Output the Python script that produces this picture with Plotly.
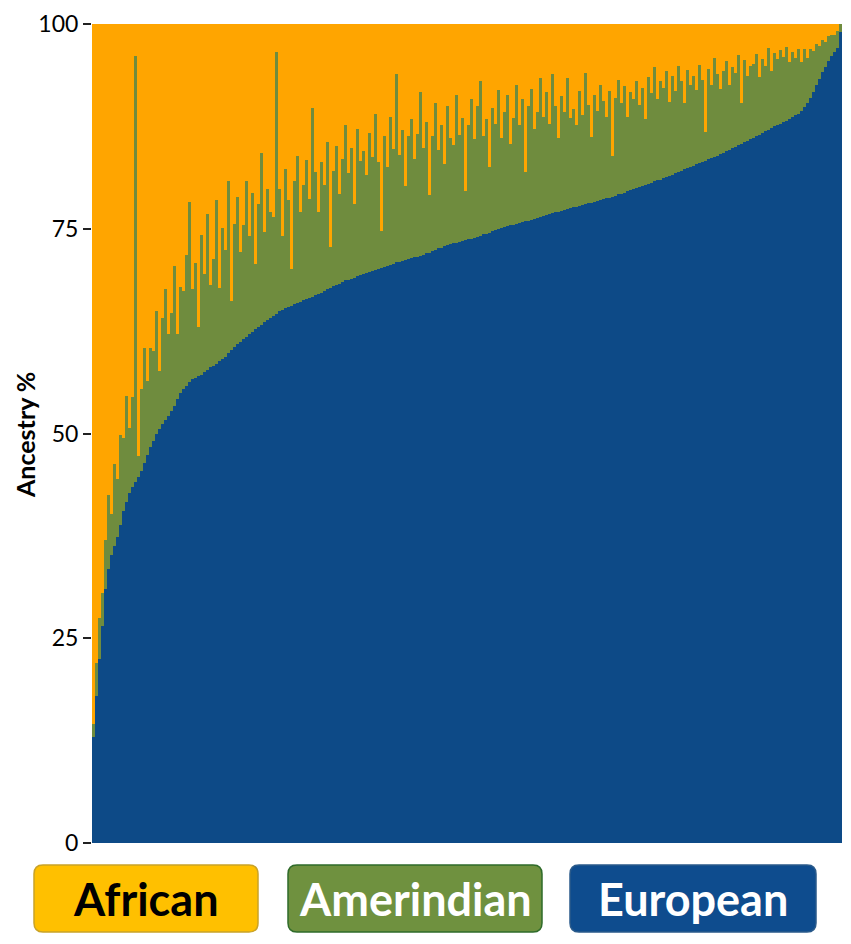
import numpy as np
import plotly.graph_objects as go

# individuals sorted by European ancestry (%)
european = [
    13, 18, 22.5, 26.5, 31, 33.5, 35.2, 36.3, 37.4, 38.8,
    40.5, 41.6, 42.7, 43.5, 44.1, 44.7, 45.4, 46.4, 47.4, 48.4,
    49.1, 49.9, 50.6, 51.1, 51.6, 52.1, 52.7, 53.4, 54.2, 54.9,
    55.4, 55.8, 56.3, 56.6, 56.8, 57.0, 57.2, 57.5, 57.8, 58.1,
    58.3, 58.5, 58.8, 59.1, 59.4, 59.8, 60.2, 60.6, 60.9, 61.2,
    61.5, 61.8, 62.1, 62.4, 62.7, 63.0, 63.3, 63.6, 63.9, 64.1,
    64.4, 64.6, 64.9, 65.1, 65.3, 65.5, 65.6, 65.8, 65.9, 66.1,
    66.3, 66.4, 66.6, 66.7, 66.9, 67.0, 67.2, 67.4, 67.6, 67.8,
    68.0, 68.1, 68.3, 68.5, 68.7, 68.8, 68.9, 69.0, 69.2, 69.3,
    69.5, 69.6, 69.7, 69.8, 70.0, 70.1, 70.2, 70.3, 70.5, 70.6,
    70.7, 70.9, 71.0, 71.1, 71.2, 71.3, 71.4, 71.5, 71.6, 71.7,
    71.8, 72.0, 72.1, 72.3, 72.4, 72.6, 72.7, 72.9, 73.0, 73.1,
    73.2, 73.3, 73.4, 73.5, 73.6, 73.7, 73.8, 73.9, 74.0, 74.1,
    74.3, 74.4, 74.5, 74.7, 74.8, 75.0, 75.1, 75.2, 75.3, 75.4,
    75.5, 75.6, 75.7, 75.8, 75.9, 76.0, 76.1, 76.2, 76.3, 76.4,
    76.6, 76.7, 76.8, 76.9, 77.0, 77.1, 77.2, 77.3, 77.4, 77.5,
    77.6, 77.7, 77.8, 77.9, 78.0, 78.1, 78.2, 78.3, 78.4, 78.5,
    78.6, 78.7, 78.8, 78.9, 79.0, 79.2, 79.3, 79.4, 79.6, 79.7,
    79.8, 80.0, 80.1, 80.2, 80.4, 80.5, 80.6, 80.8, 80.9, 81.0,
    81.2, 81.3, 81.5, 81.6, 81.8, 81.9, 82.1, 82.3, 82.4, 82.6,
    82.7, 82.9, 83.0, 83.2, 83.3, 83.5, 83.6, 83.8, 83.9, 84.1,
    84.3, 84.5, 84.6, 84.8, 85.0, 85.2, 85.4, 85.6, 85.7, 85.9,
    86.1, 86.3, 86.5, 86.7, 86.9, 87.1, 87.3, 87.5, 87.7, 87.8,
    88.0, 88.2, 88.4, 88.6, 88.9, 89.0, 89.4, 89.9, 90.4, 91.0,
    91.7, 92.5, 93.3, 94.1, 94.8, 95.5, 96.1, 96.6, 97.1, 99.0,
]

amerindian = [
    1.5, 4, 5, 4, 6, 9, 5, 10, 7, 11,
    9, 13, 8, 11, 52, 2.5, 10, 14, 9, 12,
    11, 15, 7, 13, 16, 10, 12, 17, 8, 13,
    12, 16, 22, 11, 14, 6, 17, 12, 19, 10,
    13, 20, 9, 16, 13, 21, 6, 15, 18, 11,
    14, 19, 12, 17, 8, 15, 21, 11, 16, 13,
    12, 32, 15, 9, 17, 13, 4.5, 15, 18, 11,
    14, 17, 12, 23, 15, 10, 16, 13, 18, 5,
    14, 17, 11, 15, 19, 13, 16, 9, 18, 14,
    15, 12, 17, 14, 19, 13, 4.5, 16, 12, 18,
    14, 23, 13, 16, 9, 15, 17, 12, 15, 20,
    13, 16, 7, 14, 18, 12, 15, 10, 17, 13,
    12, 18, 13, 15, 6, 14, 17, 12, 16, 19,
    12, 14, 8, 15, 13, 17, 11, 14, 16, 10,
    13, 17, 12, 15, 6, 14, 16, 11, 13, 17,
    12, 15, 11, 17, 13, 9, 14, 12, 16, 11,
    12, 10, 14, 11, 16, 12, 8, 13, 11, 14,
    12, 10, 13, 5, 12, 14, 11, 13, 9, 12,
    11, 13, 10, 12, 8, 13, 11, 14, 10, 12,
    11, 13, 9, 12, 10, 13, 11, 8, 12, 10,
    11, 9, 12, 10, 3.5, 11, 9, 12, 10, 8,
    10, 11, 8, 10, 9, 11, 5, 10, 8, 9,
    9, 10, 7, 9, 8, 10, 7, 9, 8, 9,
    8, 9, 7, 8, 7, 8, 6, 7, 5.5, 6,
    5, 5, 4, 4, 3, 3, 2.5, 2, 2, 1,
]

eu = np.array(european)
am = np.array(amerindian)
african = np.clip(100 - eu - am, 0, None)
idx = list(range(len(european)))

col_eu = "#0D4A87"
col_am = "#6F8C3E"
col_af = "#FFA500"

fig = go.Figure()
for name, vals, col in [("European", eu, col_eu),
                        ("Amerindian", am, col_am),
                        ("African", african, col_af)]:
    fig.add_trace(go.Bar(x=idx, y=vals, name=name,
                         marker=dict(color=col, line=dict(width=0))))

# page has an 8px body margin, so the figure is sized to fit inside it
fig.update_layout(
    barmode="stack", bargap=0,
    width=835, height=928,
    margin=dict(l=84, r=1, t=16, b=93),
    plot_bgcolor="white", paper_bgcolor="white",
    showlegend=False,
    font=dict(family="Lato, Open Sans, sans-serif", color="black"),
    xaxis=dict(visible=False, range=[-0.5, len(idx) - 0.5]),
    yaxis=dict(range=[0, 100], tickvals=[0, 25, 50, 75, 100],
               ticks="outside", ticklen=8, tickcolor="#222", tickwidth=1.5,
               ticklabelstandoff=0, ticklabeloverflow="allow",
               tickfont=dict(size=23, family="Lato"),
               showgrid=False, zeroline=False, showline=False,
               automargin=False),
)

# positions below are in page pixels (plot area: x 92-842, y 24-843)
def px(x):
    return (x - 92) / 750.0

def py(y):
    return (843 - y) / 819.0

fig.add_annotation(text="<b>Ancestry %</b>", textangle=-90,
                   xref="paper", yref="paper", x=px(25), y=py(435),
                   xanchor="center", yanchor="middle",
                   showarrow=False, font=dict(size=25, family="Lato"))

def rounded(x0, y0, x1, y1, r=9):
    X0, X1 = px(x0), px(x1)
    Y0, Y1 = py(y0), py(y1)
    rx, ry = r / 750.0, r / 819.0
    return (f"M {X0 + rx},{Y0} L {X1 - rx},{Y0} Q {X1},{Y0} {X1},{Y0 - ry} "
            f"L {X1},{Y1 + ry} Q {X1},{Y1} {X1 - rx},{Y1} "
            f"L {X0 + rx},{Y1} Q {X0},{Y1} {X0},{Y1 + ry} "
            f"L {X0},{Y0 - ry} Q {X0},{Y0} {X0 + rx},{Y0} Z")

boxes = [
    ("African", 34, 258, "#FFC000", "#C9A227", "black"),
    ("Amerindian", 288, 542, "#6F913F", "#2F6B2A", "white"),
    ("European", 570, 816, "#0E4C8E", "#2A5A8A", "white"),
]
for label, x0, x1, fill, edge, tcol in boxes:
    fig.add_shape(type="path", path=rounded(x0, 865, x1, 932),
                  xref="paper", yref="paper", fillcolor=fill,
                  line=dict(color=edge, width=1.5))
    fig.add_annotation(text=f"<b>{label}</b>", xref="paper", yref="paper",
                       x=px((x0 + x1) / 2), y=py(899),
                       xanchor="center", yanchor="middle", showarrow=False,
                       font=dict(size=45, family="Lato", color=tcol))

fig.write_html("out.html")
